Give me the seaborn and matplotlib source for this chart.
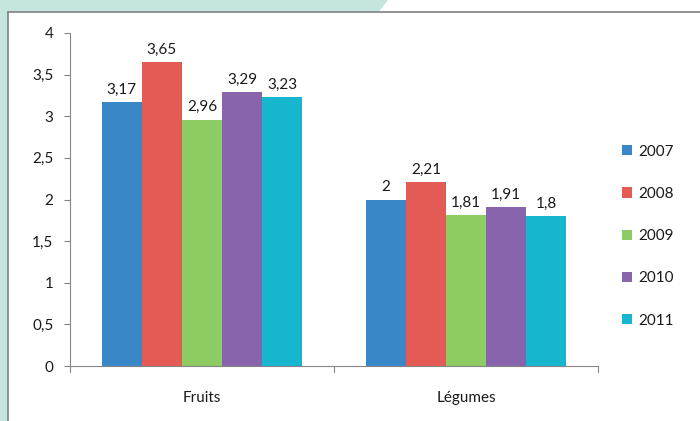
import matplotlib
matplotlib.use("Agg")
import matplotlib.pyplot as plt
import seaborn as sns
import pandas as pd
from matplotlib.patches import Rectangle, Polygon

categories = ["Fruits", "Légumes"]
years = ["2007", "2008", "2009", "2010", "2011"]
fruits = [3.17, 3.65, 2.96, 3.29, 3.23]
legumes = [2.00, 2.21, 1.81, 1.91, 1.80]
value_labels_fruits = ["3,17", "3,65", "2,96", "3,29", "3,23"]
value_labels_legumes = ["2", "2,21", "1,81", "1,91", "1,8"]
colors = ["#3a87c8", "#e45b56", "#8dcb63", "#8764ac", "#17b6cf"]
yticks = [0, 0.5, 1, 1.5, 2, 2.5, 3, 3.5, 4]
ytick_labels = ["0", "0,5", "1", "1,5", "2", "2,5", "3", "3,5", "4"]

rows = []
for y, v in zip(years, fruits):
    rows.append({"cat": "Fruits", "year": y, "val": v})
for y, v in zip(years, legumes):
    rows.append({"cat": "Légumes", "year": y, "val": v})
df = pd.DataFrame(rows)

sns.set_theme(style="white")
plt.rcParams["font.family"] = ["Lato", "DejaVu Sans"]

TEAL = "#c5e6df"
TXT = "#1a1a1a"
fig = plt.figure(figsize=(7, 4.21), dpi=100, facecolor="white")
W, H = 700, 421
# teal background top-left band and left strip
fig.patches.append(Polygon([(0, 1), (388 / W, 1), (378 / W, 1 - 13 / H), (0, 1 - 13 / H)],
                           closed=True, transform=fig.transFigure,
                           facecolor=TEAL, edgecolor="none", zorder=0))
fig.patches.append(Rectangle((0, 0), 10 / W, 1, transform=fig.transFigure,
                             facecolor=TEAL, edgecolor="none", zorder=0))
# main white panel
fig.patches.append(Rectangle((8 / W, -0.01), 1 - 8 / W + 0.01, 1 - 12 / H + 0.01,
                             transform=fig.transFigure, facecolor="white",
                             edgecolor="#7f7f7f", linewidth=1.2, zorder=1))

ax = fig.add_axes([70 / W, 1 - 366 / H, (598 - 70) / W, (366 - 33) / H])
ax.set_facecolor("none")
ax.set_zorder(2)

sns.barplot(data=df, x="cat", y="val", hue="year", palette=colors,
            width=0.76, saturation=1, ax=ax, legend=True,
            edgecolor="none", linewidth=0)

ax.set_ylim(0, 4)
ax.set_xlim(-0.5, 1.5)
ax.set_yticks(yticks)
ax.set_yticklabels(ytick_labels)
ax.set_xlabel("")
ax.set_ylabel("")
ax.tick_params(axis="y", left=True, length=4, width=0.8, color="#868686",
               labelsize=11, labelcolor=TXT, pad=8)
ax.set_xticks([0, 1])
ax.set_xticklabels(categories)
ax.tick_params(axis="x", bottom=False, labelsize=11, labelcolor=TXT, pad=12)
for xt in [-0.5, 0.5, 1.5]:
    ax.plot([xt, xt], [0, -0.07], color="#868686", lw=0.8, clip_on=False)

for s in ["top", "right"]:
    ax.spines[s].set_visible(False)
for s in ["left", "bottom"]:
    ax.spines[s].set_color("#868686")
    ax.spines[s].set_linewidth(0.8)

for i, cont in enumerate(ax.containers):
    labs = [value_labels_fruits[i], value_labels_legumes[i]]
    ax.bar_label(cont, labels=labs, padding=4, fontsize=11, color=TXT)

handles, labels = ax.get_legend_handles_labels()
ax.legend(handles, labels, loc="center left", bbox_to_anchor=(1.02, 0.39),
          frameon=False, fontsize=11, handlelength=0.65, handleheight=0.65,
          handletextpad=0.4, labelspacing=1.85, labelcolor=TXT)

fig.savefig("out.png", dpi=100, facecolor=fig.get_facecolor())
